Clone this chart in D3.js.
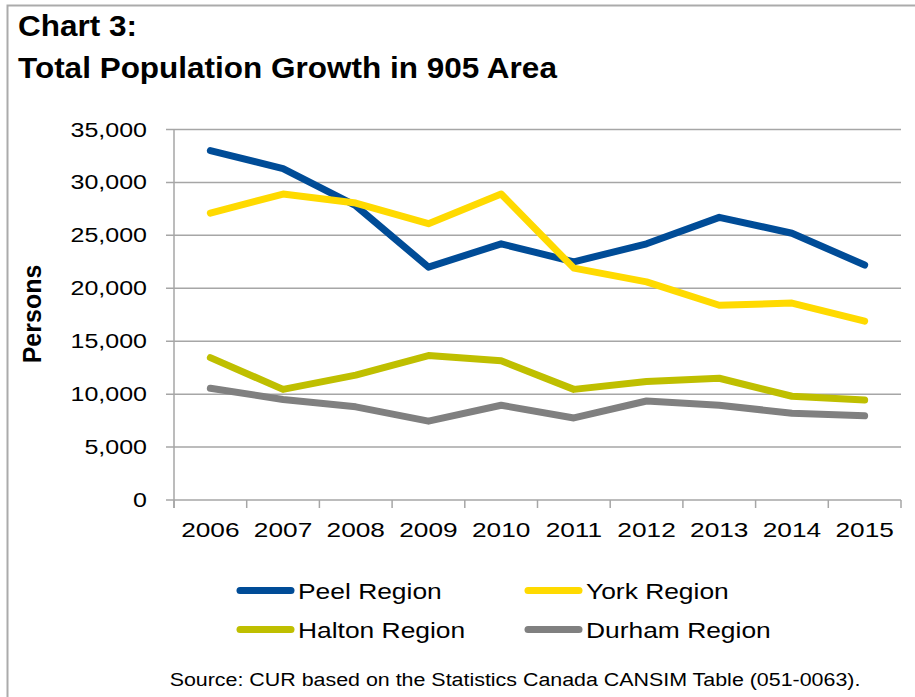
<!DOCTYPE html>
<html>
<head>
<meta charset="utf-8">
<script src="https://cdn.jsdelivr.net/npm/d3@7"></script>
<style>
  html, body { margin: 0; padding: 0; background: #fff; }
  svg { display: block; font-family: "Liberation Sans", Arial, sans-serif; }
</style>
</head>
<body>
<svg id="chart" width="915" height="697"></svg>
<script>
// Annual population growth by region, 2006-2015 (persons)
const years  = ["2006","2007","2008","2009","2010","2011","2012","2013","2014","2015"];
const peel   = [33000, 31300, 27800, 22000, 24200, 22500, 24200, 26700, 25200, 22200];
const york   = [27100, 28900, 28050, 26100, 28900, 21900, 20600, 18400, 18600, 16900];
const halton = [13450, 10450, 11800, 13650, 13150, 10450, 11200, 11500,  9800,  9450];
const durham = [10550,  9500,  8800,  7450,  8950,  7750,  9350,  8950,  8200,  7950];
const yTicks = [0, 5000, 10000, 15000, 20000, 25000, 30000, 35000];

const seriesNames  = ["Peel Region", "York Region", "Halton Region", "Durham Region"];
const seriesValues = [peel, york, halton, durham];
const seriesColors = ["#004C97", "#FFDA00", "#BFBF00", "#808080"];

const svg = d3.select("#chart");
const plot = { left: 174, right: 901, top: 129.5, bottom: 500 };

// outer frame (continues past the right and bottom edges)
svg.append("rect")
  .attr("x", 7.5).attr("y", 5.5).attr("width", 1000).attr("height", 1000)
  .attr("fill", "none").attr("stroke", "#ababab").attr("stroke-width", 2);

// helper: text with horizontal stretch
function label(g, x, y, txt, opts) {
  const t = g.append("text")
    .attr("transform", `translate(${x},${y}) scale(${opts.sx || 1},1)`)
    .attr("font-size", opts.size)
    .attr("font-weight", opts.bold ? "bold" : "normal")
    .attr("text-anchor", opts.anchor || "start")
    .attr("fill", "#000")
    .text(txt);
  if (opts.baseline) t.attr("dy", opts.baseline);
  return t;
}

// title
label(svg, 18, 36, "Chart 3:", { size: 30, bold: true, sx: 1.05 });
label(svg, 18, 78, "Total Population Growth in 905 Area", { size: 30, bold: true, sx: 1.05 });

const x = d3.scaleBand().domain(years).range([plot.left, plot.right]).padding(0);
const y = d3.scaleLinear().domain([0, 35000]).range([plot.bottom, plot.top]);
const fmt = d3.format(",");

// horizontal gridlines with short left ticks
const grid = svg.append("g");
grid.selectAll("line").data(yTicks).join("line")
  .attr("x1", plot.left - 8).attr("x2", plot.right)
  .attr("y1", d => y(d)).attr("y2", d => y(d))
  .attr("stroke", "#a6a6a6").attr("stroke-width", 1.5);

// y axis line
svg.append("line")
  .attr("x1", plot.left).attr("x2", plot.left)
  .attr("y1", y(35000)).attr("y2", y(0) + 8)
  .attr("stroke", "#a6a6a6").attr("stroke-width", 1.5);

// x axis ticks at category boundaries
const bounds = years.map(d => x(d)).concat([x.range()[1]]);
svg.append("g").selectAll("line").data(bounds).join("line")
  .attr("x1", d => d).attr("x2", d => d)
  .attr("y1", y(0)).attr("y2", y(0) + 8)
  .attr("stroke", "#a6a6a6").attr("stroke-width", 1.5);

// y tick labels
const yl = svg.append("g");
yTicks.forEach(v => label(yl, 147, y(v), fmt(v), { size: 20, sx: 1.25, anchor: "end", baseline: "0.35em" }));

// x tick labels
const xl = svg.append("g");
years.forEach(yr => label(xl, x(yr) + x.bandwidth() / 2, 537, yr, { size: 21, sx: 1.25, anchor: "middle" }));

// y axis title
svg.append("text")
  .attr("transform", "translate(41,314) rotate(-90)")
  .attr("text-anchor", "middle")
  .attr("font-size", 25).attr("font-weight", "bold")
  .text("Persons");

// series lines
const line = d3.line()
  .x((d, i) => x(years[i]) + x.bandwidth() / 2)
  .y(d => y(d));

svg.append("g").selectAll("path").data(seriesValues).join("path")
  .attr("d", d => line(d))
  .attr("fill", "none")
  .attr("stroke", (d, i) => seriesColors[i])
  .attr("stroke-width", 7)
  .attr("stroke-linejoin", "round")
  .attr("stroke-linecap", "round");

// legend
const legendPos = [[237, 590.5], [525, 590.5], [237, 629.5], [525, 629.5]];
const lg = svg.append("g");
seriesNames.forEach((name, i) => {
  const [lx, ly] = legendPos[i];
  lg.append("line")
    .attr("x1", lx + 3).attr("x2", lx + 54)
    .attr("y1", ly).attr("y2", ly)
    .attr("stroke", seriesColors[i]).attr("stroke-width", 7)
    .attr("stroke-linecap", "round");
  label(lg, lx + 61, ly + 8, name, { size: 22, sx: 1.2 });
});

// source note
label(svg, 515, 686, "Source: CUR based on the Statistics Canada CANSIM Table (051-0063).",
  { size: 18, sx: 1.19, anchor: "middle" });
</script>
</body>
</html>
